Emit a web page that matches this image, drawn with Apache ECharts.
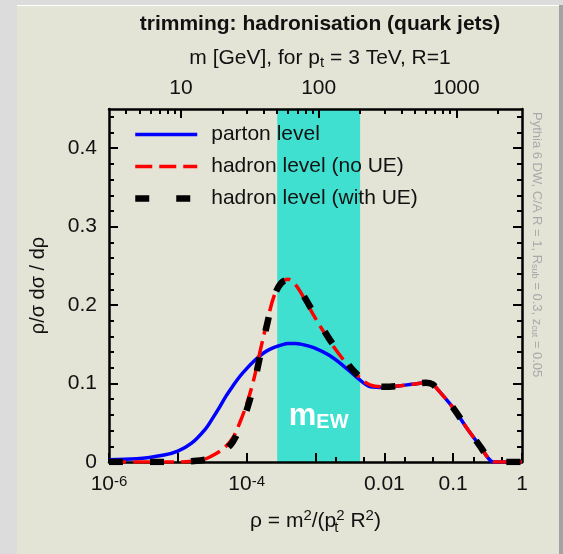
<!DOCTYPE html>
<html>
<head>
<meta charset="utf-8">
<script src="https://cdn.jsdelivr.net/npm/echarts@6/dist/echarts.min.js"></script>
<style>
  html, body { margin: 0; padding: 0; background: #dcdcdc; }
  #page { position: relative; width: 563px; height: 554px; overflow: hidden; background: #dcdcdc; }
  #panel { position: absolute; left: 17px; top: 5px; width: 542px; height: 549px; background: #e3e3d6; border-top: 1px solid #ffffff; }
  #shade { position: absolute; left: 559px; top: 5px; width: 4px; height: 549px; background: #a3a3a3; }
  #chart { position: absolute; left: 0; top: 0; width: 563px; height: 554px; }
</style>
</head>
<body>
<div id="page"><div id="panel"></div><div id="shade"></div><div id="chart"></div></div>
<script>
// log10(rho) sample points shared by all three distributions
const logRho = [-6, -5.6, -5.2, -5.0, -4.8, -4.6, -4.5, -4.4, -4.3, -4.2, -4.1, -4.0, -3.9, -3.8, -3.7, -3.6,
  -3.5, -3.4, -3.3, -3.2, -3.0, -2.8, -2.6, -2.4, -2.2, -2.0, -1.8, -1.6, -1.4, -1.3, -1.2, -1.0, -0.8, -0.6,
  -0.5, -0.42, -0.3, 0];

// rho/sigma dsigma/drho
const partonLevel = [0.003, 0.004, 0.009, 0.014, 0.024, 0.042, 0.055, 0.069, 0.084, 0.097, 0.109, 0.119, 0.128,
  0.136, 0.142, 0.146, 0.149, 0.151, 0.151, 0.150, 0.145, 0.136, 0.123, 0.108, 0.096, 0.095, 0.097, 0.099,
  0.101, 0.099, 0.090, 0.069, 0.043, 0.019, 0.006, 0.0, 0.0, 0.0];
const hadronNoUE = [0.0, 0.0, 0.0, 0.0, 0.001, 0.004, 0.008, 0.013, 0.020, 0.031, 0.050, 0.074, 0.104,
  0.143, 0.180, 0.212, 0.228, 0.233, 0.227, 0.214, 0.183, 0.155, 0.131, 0.111, 0.098, 0.096, 0.097, 0.099,
  0.101, 0.099, 0.090, 0.069, 0.043, 0.019, 0.006, 0.0, 0.0, 0.0];
const hadronWithUE = [0.0, 0.0, 0.0, 0.0, 0.001, 0.003, 0.006, 0.010, 0.016, 0.026, 0.043, 0.066, 0.097,
  0.137, 0.177, 0.211, 0.228, 0.232, 0.228, 0.216, 0.186, 0.157, 0.133, 0.112, 0.098, 0.096, 0.097, 0.099,
  0.101, 0.099, 0.090, 0.069, 0.043, 0.019, 0.006, 0.0, 0.0, 0.0];

const seriesNames = ['parton level', 'hadron level (no UE)', 'hadron level (with UE)'];

// kinematics: rho = m^2 / (pt^2 R^2)
const ptGeV = 3000;
const jetR = 1;
const mEWRange = [50, 200];           // electroweak mass window [GeV]

// tick positions
const rhoMajorTicks = [-6, -5, -4, -3, -2, -1, 0];
const rhoLabelTicks = [-6, -4, -2, -1, 0];
const rhoMinorTicks = [0.002, 0.005, 0.02, 0.05, 0.2, 0.5];
const massLabelTicks = [10, 100, 1000];
const massMinorTicks = [4, 5, 6, 7, 8, 9, 20, 30, 40, 50, 60, 70, 80, 90, 200, 300, 400, 500, 600, 700, 800, 900, 2000];
const yMajorTicks = [0, 0.1, 0.2, 0.3, 0.4];
const yMinorTicks = [0.02, 0.04, 0.06, 0.08, 0.12, 0.14, 0.16, 0.18, 0.22, 0.24, 0.26, 0.28, 0.32, 0.34, 0.36, 0.38, 0.42, 0.44];

const massToLogRho = m => 2 * Math.log10(m / (ptGeV * jetR));
const logRhoToMass = v => Math.round(ptGeV * jetR * Math.pow(10, v / 2));

const FONT = '"Liberation Sans", Arial, Helvetica, sans-serif';
const INK = '#111111';

const pairs = vals => logRho.map((x, i) => [x, vals[i]]);

const rhoLabel = v => {
  const e = Math.round(v);
  if (e <= -3) return '{b|10}{sup|' + e + '}';
  return { '-2': '0.01', '-1': '0.1', '0': '1' }[String(e)];
};

const baseX = { type: 'value', min: -6, max: 0, splitLine: { show: false }, z: 3 };
const baseY = { type: 'value', min: 0, max: 0.45, splitLine: { show: false }, z: 3 };
const frameLine = { show: true, onZero: false, lineStyle: { color: '#000', width: 2.5 } };
const noLine = { show: false, onZero: false };
const majorTick = vals => ({ show: true, inside: true, length: 9, lineStyle: { color: '#000', width: 2 }, customValues: vals });
const minorTick = vals => ({ show: true, inside: true, length: 5, lineStyle: { color: '#000', width: 2 }, customValues: vals });

const chart = echarts.init(document.getElementById('chart'), null, { renderer: 'canvas' });

chart.setOption({
  animation: false,
  backgroundColor: 'transparent',
  textStyle: { fontFamily: FONT },
  title: [
    { text: 'trimming: hadronisation (quark jets)', left: 315, top: 9, textAlign: 'center',
      textStyle: { fontFamily: FONT, fontSize: 21, fontWeight: 'bold', color: INK } },
    { text: 'm [GeV], for p{sub|t} = 3 TeV, R=1', left: 315, top: 42, textAlign: 'center',
      textStyle: { fontFamily: FONT, fontSize: 21, fontWeight: 'normal', color: INK,
        rich: { sub: { fontSize: 15, verticalAlign: 'bottom', fontFamily: FONT, color: INK, padding: [8, 0, 0, 0] } } } }
  ],
  grid: { left: 109, right: 41, top: 109, bottom: 92 },
  legend: {
    orient: 'vertical', left: 132, top: 124, padding: 0, itemWidth: 62, itemHeight: 14, itemGap: 11,
    data: seriesNames,
    itemStyle: { opacity: 0 },
    lineStyle: { width: 'inherit' },
    textStyle: { fontFamily: FONT, fontSize: 21, color: INK, padding: [0, 0, 0, 9] }
  },
  xAxis: [
    Object.assign({}, baseX, {
      position: 'bottom',
      name: 'ρ = m{sup|2}/(p{subz|t}{sup|2} R{sup|2})',
      nameLocation: 'middle', nameGap: 46,
      nameTextStyle: { fontFamily: FONT, fontSize: 21, color: INK,
        rich: {
          sup: { fontSize: 15, verticalAlign: 'top', fontFamily: FONT, color: INK },
          subz: { fontSize: 15, verticalAlign: 'bottom', width: 0, fontFamily: FONT, color: INK, padding: [12, 0, 0, 0] }
        } },
      axisLine: frameLine,
      axisTick: majorTick(rhoMajorTicks),
      axisLabel: { show: true, margin: 12, customValues: rhoLabelTicks, formatter: rhoLabel,
        fontFamily: FONT, fontSize: 21, color: INK,
        rich: {
          b: { fontSize: 21, fontFamily: FONT, color: INK },
          sup: { fontSize: 15, fontFamily: FONT, color: INK, verticalAlign: 'top' }
        } }
    }),
    Object.assign({}, baseX, {
      position: 'bottom', axisLine: noLine,
      axisTick: minorTick(rhoMinorTicks.map(r => Math.log10(r))),
      axisLabel: { show: false }
    }),
    Object.assign({}, baseX, {
      position: 'top', axisLine: frameLine,
      axisTick: majorTick(massLabelTicks.map(massToLogRho)),
      axisLabel: { show: true, margin: 10, customValues: massLabelTicks.map(massToLogRho),
        formatter: v => String(logRhoToMass(v)), fontFamily: FONT, fontSize: 21, color: INK }
    }),
    Object.assign({}, baseX, {
      position: 'top', axisLine: noLine,
      axisTick: minorTick(massMinorTicks.map(massToLogRho)),
      axisLabel: { show: false }
    })
  ],
  yAxis: [
    Object.assign({}, baseY, {
      position: 'left',
      name: 'ρ/σ dσ / dρ', nameLocation: 'middle', nameGap: 61, nameRotate: 90,
      nameTextStyle: { fontFamily: FONT, fontSize: 20, color: INK },
      axisLine: frameLine,
      axisTick: majorTick(yMajorTicks),
      axisLabel: { show: true, margin: 12, customValues: yMajorTicks, formatter: v => String(+v.toFixed(1)),
        fontFamily: FONT, fontSize: 21, color: INK }
    }),
    Object.assign({}, baseY, {
      position: 'left', axisLine: noLine, axisTick: minorTick(yMinorTicks), axisLabel: { show: false }
    }),
    Object.assign({}, baseY, {
      position: 'right', axisLine: frameLine, axisTick: majorTick(yMajorTicks), axisLabel: { show: false }
    }),
    Object.assign({}, baseY, {
      position: 'right', axisLine: noLine, axisTick: minorTick(yMinorTicks), axisLabel: { show: false }
    })
  ],
  graphic: [
    {
      type: 'text', x: 537, y: 112, rotation: -Math.PI / 2, silent: true,
      style: {
        text: 'Pythia 6 DW, C/A R = 1, R{s|sub} = 0.3, z{s|cut} = 0.05',
        fill: '#a9a9a9', font: '13px ' + FONT, align: 'left', verticalAlign: 'middle',
        rich: { s: { fontSize: 9, fill: '#a9a9a9', fontFamily: FONT, verticalAlign: 'bottom', padding: [6, 0, 0, 0] } }
      }
    }
  ],
  series: [
    {
      // electroweak mass window band
      name: 'mEW', type: 'line', data: [], z: 1, silent: true,
      markArea: {
        silent: true,
        itemStyle: { color: '#40e0d0', opacity: 1 },
        label: {
          show: true, position: 'insideBottom', distance: 30,
          formatter: '{m|m}{s|EW}',
          rich: {
            m: { fontSize: 31, fontWeight: 'bold', color: '#ffffff', fontFamily: FONT },
            s: { fontSize: 20, fontWeight: 'bold', color: '#ffffff', fontFamily: FONT, verticalAlign: 'bottom', padding: [12, 0, 0, 0] }
          }
        },
        data: [[{ xAxis: massToLogRho(mEWRange[0]) }, { xAxis: massToLogRho(mEWRange[1]) }]]
      }
    },
    {
      name: seriesNames[0], type: 'line', data: pairs(partonLevel), z: 5,
      smooth: 0.35, showSymbol: false, symbol: 'none',
      lineStyle: { color: '#0000ff', width: 3.5 }, itemStyle: { color: '#0000ff' }
    },
    {
      name: seriesNames[1], type: 'line', data: pairs(hadronNoUE), z: 6,
      smooth: 0.35, showSymbol: false, symbol: 'none',
      lineStyle: { color: '#ff0000', width: 3.5, type: [17, 7], cap: 'butt' }, itemStyle: { color: '#ff0000' }
    },
    {
      name: seriesNames[2], type: 'line', data: pairs(hadronWithUE), z: 7,
      smooth: 0.35, showSymbol: false, symbol: 'none',
      lineStyle: { color: '#000000', width: 6.5, type: [14, 27], cap: 'butt' }, itemStyle: { color: '#000000' }
    }
  ]
});
</script>
</body>
</html>
